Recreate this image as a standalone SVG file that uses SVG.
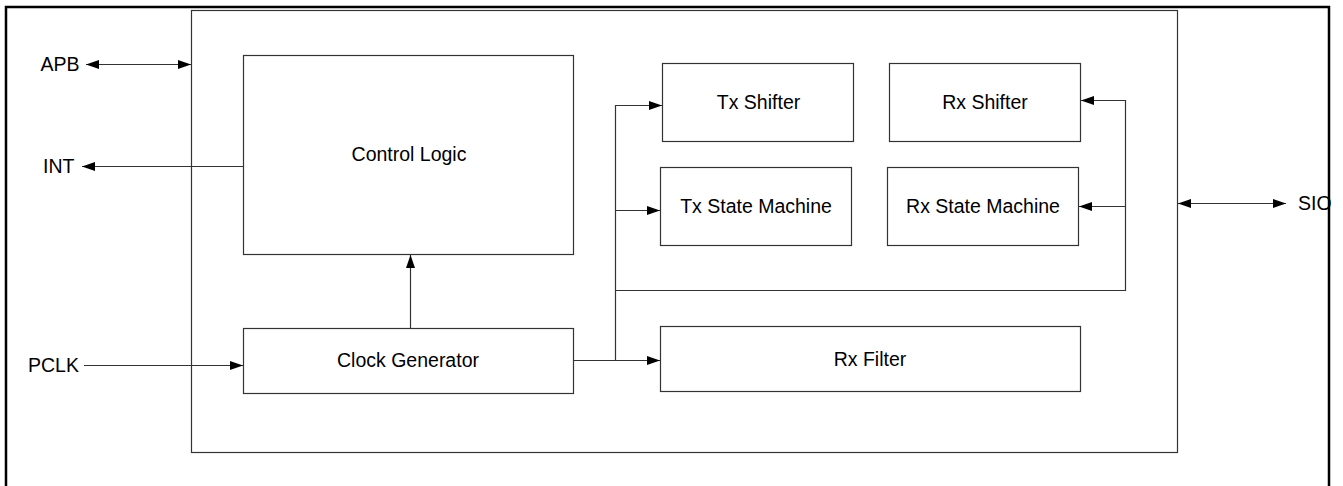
<svg xmlns="http://www.w3.org/2000/svg" width="1343" height="486" viewBox="0 0 1343 486">
<style>
.box{fill:#fff;stroke:#333;stroke-width:1.2}
.ln{fill:none;stroke:#333;stroke-width:1.2}
.t{font-family:"Liberation Sans",Arial,sans-serif;font-size:19.5px;fill:#000}
.m{text-anchor:middle}
</style>
<defs>
<marker id="ah" viewBox="0 0 13 9" refX="13" refY="4.5" markerWidth="13" markerHeight="9" markerUnits="userSpaceOnUse" orient="auto-start-reverse">
<path d="M0,0 L13,4.5 L0,9 Z" fill="#000"/>
</marker>
</defs>
<rect x="6" y="7" width="1323" height="520" fill="#fff" stroke="#000" stroke-width="2.5"/>
<g id="chip"><rect class="box" x="191.5" y="10.5" width="986" height="442"/></g>
<g id="control-logic"><rect class="box" x="243.5" y="55.5" width="330" height="199"/><text class="t m" x="409" y="161">Control Logic</text></g>
<g id="clock-generator"><rect class="box" x="243.5" y="328.5" width="330" height="65"/><text class="t m" x="408" y="367">Clock Generator</text></g>
<g id="tx-shifter"><rect class="box" x="662.5" y="63.5" width="191" height="78"/><text class="t m" x="758.5" y="109">Tx Shifter</text></g>
<g id="tx-state-machine"><rect class="box" x="660.5" y="167.5" width="191" height="78"/><text class="t m" x="756" y="213">Tx State Machine</text></g>
<g id="rx-shifter"><rect class="box" x="889.5" y="63.5" width="191" height="78"/><text class="t m" x="985" y="109">Rx Shifter</text></g>
<g id="rx-state-machine"><rect class="box" x="887.5" y="167.5" width="191" height="78"/><text class="t m" x="983" y="213">Rx State Machine</text></g>
<g id="rx-filter"><rect class="box" x="660.5" y="326.5" width="420" height="65"/><text class="t m" x="870" y="366">Rx Filter</text></g>
<g id="labels">
<text class="t" x="40.5" y="71">APB</text>
<text class="t" x="43" y="173">INT</text>
<text class="t" x="28" y="372">PCLK</text>
<text class="t" x="1298" y="210">SIO</text>
</g>
<g id="connectors">
<line class="ln" x1="86" y1="64.5" x2="191" y2="64.5" marker-start="url(#ah)" marker-end="url(#ah)"/>
<line class="ln" x1="243" y1="166.5" x2="82" y2="166.5" marker-end="url(#ah)"/>
<line class="ln" x1="84" y1="365.5" x2="243" y2="365.5" marker-end="url(#ah)"/>
<line class="ln" x1="1178" y1="203.5" x2="1286" y2="203.5" marker-start="url(#ah)" marker-end="url(#ah)"/>
<line class="ln" x1="410.5" y1="328" x2="410.5" y2="255" marker-end="url(#ah)"/>
<line class="ln" x1="574" y1="360.5" x2="660" y2="360.5" marker-end="url(#ah)"/>
<polyline class="ln" points="615.5,360.5 615.5,105.5 662,105.5" marker-end="url(#ah)"/>
<line class="ln" x1="615.5" y1="210.5" x2="660" y2="210.5" marker-end="url(#ah)"/>
<polyline class="ln" points="615.5,290.5 1125.5,290.5 1125.5,100.5 1081,100.5" marker-end="url(#ah)"/>
<line class="ln" x1="1125.5" y1="206.5" x2="1079" y2="206.5" marker-end="url(#ah)"/>
</g>
</svg>
